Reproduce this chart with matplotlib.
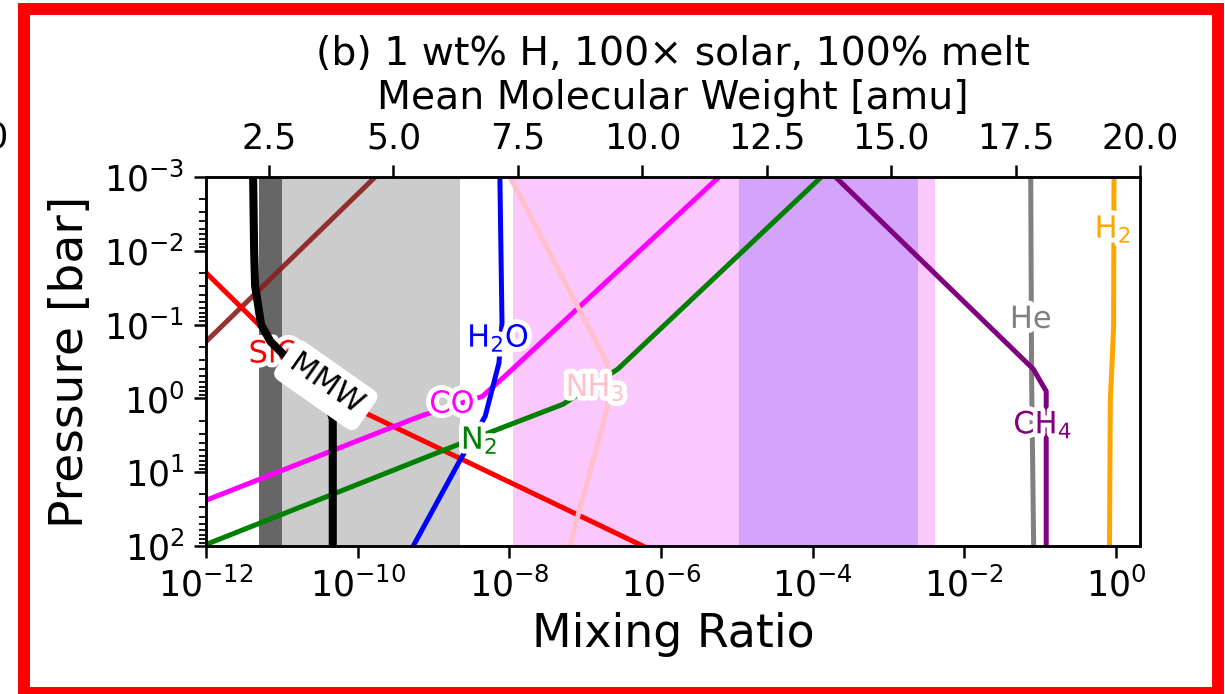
import matplotlib
matplotlib.use("Agg")
import matplotlib.pyplot as plt
import matplotlib.patheffects as pe
from matplotlib.patches import Rectangle
from matplotlib.ticker import FixedLocator, NullLocator, LogLocator

# ---- atmospheric profiles: pressure [bar] vs. mixing ratio ----
P_H2 = [1e-3, 0.1, 0.4, 1.0, 100]
X_H2 = [0.94, 0.93, 0.88, 0.84, 0.82]

P_He = [1e-3, 0.5, 100]
X_He = [0.075, 0.077, 0.082]

P_CH4 = [1e-3, 0.40, 0.8, 100]
X_CH4 = [2.0e-4, 0.081, 0.12, 0.12]

P_CO = [100, 24, 1.75, 0.94, 0.44, 1e-3]
X_CO = [2.9e-14, 1.0e-12, 6.6e-10, 4.4e-9, 1.0e-8, 5.8e-6]

P_N2 = [100, 4.5, 1.2, 0.40, 1e-3]
X_N2 = [8.9e-13, 1.8e-9, 5.1e-8, 2.7e-7, 1.3e-4]

P_H2O = [1e-3, 0.093, 0.33, 1.75, 7.1, 100]
X_H2O = [7.5e-9, 8.0e-9, 7.3e-9, 4.8e-9, 2.2e-9, 5.4e-10]

P_NH3 = [1e-3, 0.33, 0.65, 1.4, 100]
X_NH3 = [1.02e-8, 1.94e-7, 2.1e-7, 1.94e-7, 6.25e-8]

P_SiO = [1e-3, 0.0202, 0.97, 100]
X_SiO = [5.2e-14, 1.02e-12, 4.7e-11, 5.75e-7]

P_trace = [1e-3, 100]
X_trace = [1.7e-10, 1.7e-15]

# mean molecular weight profile [amu]
P_MMW = [1e-3, 0.01, 0.03, 0.1, 0.17, 0.25, 0.5, 1.0, 1.9, 100]
MMW = [2.18, 2.20, 2.22, 2.34, 2.53, 2.78, 3.3, 3.65, 3.78, 3.78]

# shaded mixing-ratio ranges
gray_dark = (5.0e-12, 1.0e-11)
gray_light = (1.0e-11, 2.23e-9)
pink_band = (1.12e-8, 4.08e-3)
purple_band = (1.07e-5, 2.46e-3)

# tick values
x_ticks = [1e-12, 1e-10, 1e-8, 1e-6, 1e-4, 1e-2, 1e0]
top_ticks = [2.5, 5.0, 7.5, 10.0, 12.5, 15.0, 17.5, 20.0]

W, H = 1225, 694
fig = plt.figure(figsize=(W / 100, H / 100), dpi=100)
ax = fig.add_axes([206 / W, 1 - 546 / H, 934 / W, 369 / H])

ax.axvspan(*gray_dark, color="#666666", lw=0, zorder=0)
ax.axvspan(*gray_light, color="#cccccc", lw=0, zorder=0)
ax.axvspan(*pink_band, color="#fac8fc", lw=0, zorder=0)
ax.axvspan(*purple_band, color="#d4a4fc", lw=0, zorder=0)

lw = 3.6
ax.plot(X_trace, P_trace, color="#8b1e1e", lw=lw, alpha=0.9)
ax.plot(X_SiO, P_SiO, color="red", lw=lw)
ax.plot(X_CO, P_CO, color="magenta", lw=lw)
ax.plot(X_N2, P_N2, color="green", lw=lw)
ax.plot(X_H2O, P_H2O, color="blue", lw=lw)
ax.plot(X_NH3, P_NH3, color="pink", lw=lw)
ax.plot(X_He, P_He, color="gray", lw=lw)
ax.plot(X_CH4, P_CH4, color="purple", lw=lw)
ax.plot(X_H2, P_H2, color="orange", lw=lw)

ax.set_xscale("log")
ax.set_yscale("log")
ax.set_xlim(1e-12, 2.07)
ax.set_ylim(100, 1e-3)
ax.xaxis.set_major_locator(FixedLocator(x_ticks))
ax.xaxis.set_minor_locator(NullLocator())
ax.yaxis.set_major_locator(LogLocator(base=10, numticks=10))
ax.yaxis.set_minor_locator(LogLocator(base=10, subs=range(2, 10), numticks=10))

tick_fs = 25
ax.tick_params(axis="both", which="major", length=8.6, width=1.8, labelsize=tick_fs, pad=7)
ax.tick_params(axis="both", which="minor", length=5, width=1.3)
for s in ax.spines.values():
    s.set_linewidth(1.8)

ax.set_xlabel("Mixing Ratio", fontsize=33, labelpad=6)
ax.set_ylabel("Pressure [bar]", fontsize=34, labelpad=8)

# species labels drawn on their curves
label_fx = [pe.withStroke(linewidth=7, foreground="white")]
labels = [
    ("H$_2$O", 7.1e-9, 0.154, "blue"),
    ("CO", 1.75e-9, 1.2, "magenta"),
    ("N$_2$", 4.0e-9, 3.7, "green"),
    ("NH$_3$", 1.35e-7, 0.71, "pink"),
    ("He", 0.075, 0.085, "gray"),
    ("CH$_4$", 0.108, 2.3, "purple"),
    ("H$_2$", 0.91, 5.1e-3, "orange"),
    ("SiO", 8.0e-12, 0.25, "red"),
]
for txt, xv, yv, c in labels:
    ax.text(xv, yv, txt, color=c, fontsize=22, ha="center", va="center",
            path_effects=label_fx, zorder=5)

# mean molecular weight on the upper axis
ax2 = ax.twiny()
ax2.plot(MMW, P_MMW, color="black", lw=5.8, zorder=3)
ax2.set_xlim(1.233, 20.0)
ax2.xaxis.set_major_locator(FixedLocator(top_ticks))
ax2.tick_params(axis="x", which="major", length=8.6, width=1.8, labelsize=tick_fs, pad=7)
for s in ax2.spines.values():
    s.set_linewidth(1.8)
ax2.set_xlabel("Mean Molecular Weight [amu]", fontsize=28.4, labelpad=9)
ax2.set_title("(b) 1 wt% H, 100× solar, 100% melt", fontsize=28.4, pad=10)
ax2.text(3.64, 0.66, "MMW", color="black", fontsize=22, rotation=-35,
         ha="center", va="center", rotation_mode="anchor", zorder=6,
         bbox=dict(boxstyle="round,pad=0.25", fc="white", ec="white", lw=2))

# neighbouring panel's tick label, clipped by the figure edge
fig.text(9 / W, 1 - 148 / H, "20.0", fontsize=tick_fs, ha="right", va="baseline")

# frame around the panel
fig.add_artist(Rectangle((23.5 / W, 1 / H), 1194 / W, 684 / H, transform=fig.transFigure,
                         fill=False, edgecolor="red", linewidth=8.6, zorder=10))

fig.savefig("out.png", dpi=100)
